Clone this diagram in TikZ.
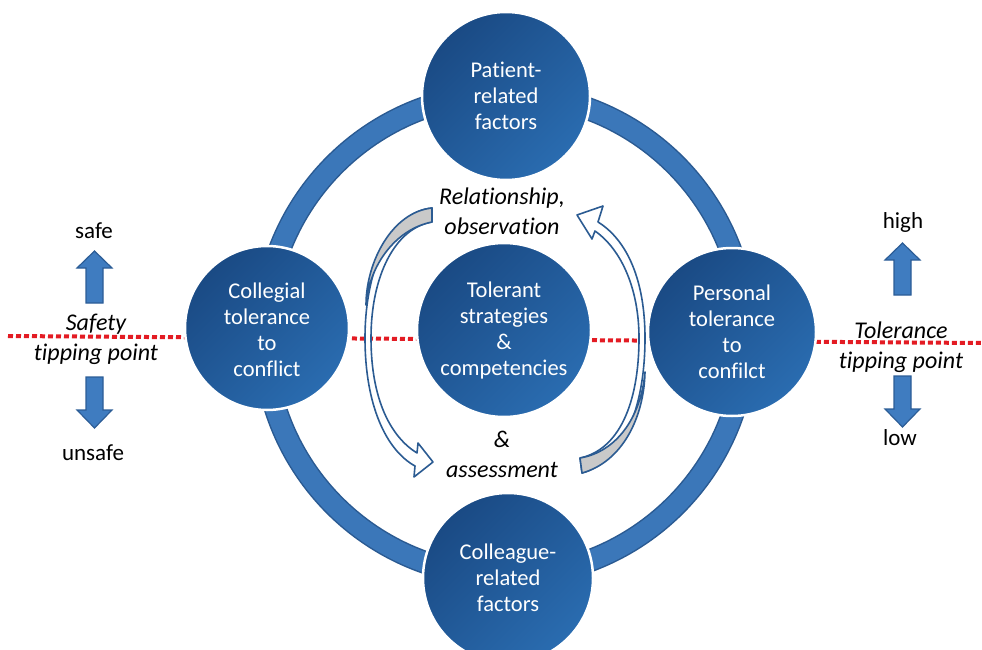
\documentclass[tikz,border=0pt]{standalone}
\usepackage{fontspec}
\setmainfont{Carlito}[Ligatures={NoCommon,NoContextual}]
\definecolor{bubbledark}{HTML}{1A4A84}
\definecolor{bubblelight}{HTML}{2A6CB0}
\definecolor{ringfill}{HTML}{3B77B9}
\definecolor{ringline}{HTML}{2A5A92}
\definecolor{curveline}{HTML}{2B5B92}
\definecolor{curvegrey}{HTML}{C9C9C9}
\definecolor{blockfill}{HTML}{3F7CC0}
\definecolor{blockline}{HTML}{2C5D96}
\definecolor{tipred}{HTML}{E31B23}
\begin{document}
\begin{tikzpicture}[x=1pt,y=-1pt,
  bubble/.style={circle, draw=white, line width=2.5pt,
    top color=bubbledark, bottom color=bubblelight, shading angle=45,
    text=white, align=center, inner sep=0pt,
    font=\fontsize{22.5}{26}\selectfont},
  ringedge/.style={ringline, line width=23pt},
  ringbody/.style={ringfill, line width=20pt},
  tipline/.style={tipred, line width=4pt, dash pattern=on 5pt off 3pt},
  curvebody/.style={draw=curveline, fill=white, line width=1.6pt, line join=round},
  curveback/.style={draw=curveline, fill=curvegrey, line width=1.6pt, line join=round},
  blockarrow/.style={draw=blockline, fill=blockfill, line width=1.2pt, line join=miter},
  note/.style={align=center, inner sep=0pt, font=\itshape\fontsize{24}{30}\selectfont},
  level/.style={inner sep=0pt, font=\fontsize{23}{28}\selectfont},
  blockup/.pic={\draw[blockarrow] (0,0) -- (17.5,17) -- (8.5,17) -- (8.5,52)
     -- (-8.5,52) -- (-8.5,17) -- (-17.5,17) -- cycle;},
  blockdown/.pic={\draw[blockarrow] (0,0) -- (17.5,-18) -- (8.5,-18) -- (8.5,-51)
     -- (-8.5,-51) -- (-8.5,-18) -- (-17.5,-18) -- cycle;}
]
\useasboundingbox (0,0) rectangle (982,650);
\clip (0,0) rectangle (982,650);

% tipping point line across the whole figure
\coordinate (tipL) at (8,336);
\coordinate (tipR) at (982,343);
\draw[tipline] (tipL) -- (tipR);

% outer ring joining the four factor bubbles
\coordinate (hub) at (505,335);
\draw[ringedge] (hub) circle[radius=241];
\draw[ringbody] (hub) circle[radius=241];

% left curved arrow (tail at the top, head at the bottom)
\draw[curvebody] (432,208) .. controls (390,212) and (365,270) .. (365,338)
  .. controls (365,405) and (386,450) .. (415,466)
  -- (414,477) -- (433,462) -- (418,443) -- (417,453)
  .. controls (391,437) and (371,400) .. (371,338)
  .. controls (371,276) and (395,228) .. (432,222) -- cycle;
\draw[curveback] (432,208) .. controls (392,212) and (366,262) .. (366,305)
  .. controls (369,265) and (396,229) .. (432,222) -- cycle;

% right curved arrow (tail at the bottom, head at the top)
\draw[curvebody] (582,473) .. controls (622,462) and (645,410) .. (645,338)
  .. controls (645,280) and (627,240) .. (598,222)
  -- (603,206) -- (577,215) -- (592,239) -- (595,231)
  .. controls (622,250) and (639,290) .. (639,338)
  .. controls (639,405) and (618,450) .. (580,458) -- cycle;
\draw[curveback] (582,473) .. controls (622,462) and (644,418) .. (645,372)
  .. controls (641,418) and (616,452) .. (580,458) -- cycle;

% bubbles
\node[bubble, minimum size=168pt] (patient) at (506,96) {Patient-\\related\\factors};
\node[bubble, minimum size=170pt] (colleague) at (508,578) {Colleague-\\related\\factors};
\node[bubble, minimum size=164pt] (collegial) at (267,328) {\strut Collegial\\tolerance\\to\\conflict};
\node[bubble, minimum size=168pt] (personal) at (732,332) {Personal\\tolerance\\to\\confilct};
\node[bubble, minimum size=174pt] (strategies) at (504,330) {Tolerant\\strategies\\\&\\competencies};

% labels along the curved arrows
\node[note] (observe) at (502,211) {Relationship,\\observation};
\node[note] (assess) at (502,454) {\&\\assessment};

% safety scale on the left
\node[note] (safety) at (96,339) {Safety\\tipping point};
\node[level] (safe) at (94,231) {safe};
\node[level] (unsafe) at (93,453) {unsafe};
\pic at (94.5,251) {blockup};
\pic at (94.5,428) {blockdown};

% tolerance scale on the right
\node[note] (tolerance) at (901,347) {Tolerance\\tipping point};
\node[level] (high) at (903,222) {high};
\node[level] (low) at (900,438) {low};
\pic at (902.5,243) {blockup};
\pic at (902.5,427) {blockdown};
\end{tikzpicture}
\end{document}
